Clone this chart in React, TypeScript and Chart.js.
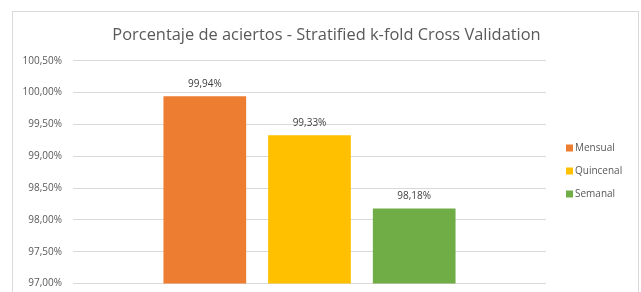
import React, { useEffect, useRef } from "react";
import { Chart, registerables } from "chart.js";

Chart.register(...registerables);

const TITLE = "Porcentaje de aciertos - Stratified k-fold Cross Validation";
const categories = [""];
const seriesNames = ["Mensual", "Quincenal", "Semanal"];
const seriesValues = [[99.94], [99.33], [98.18]];
const seriesColors = ["#ED7D31", "#FFC000", "#70AD47"];
const yMin = 97;
const yMax = 100.5;
const yStep = 0.5;

const FONT = "'Open Sans', 'Noto Sans', sans-serif";
const fmt = (v: number) => v.toFixed(2).replace(".", ",") + "%";

const dataLabels = {
  id: "dataLabels",
  afterDatasetsDraw(chart: any) {
    const ctx = chart.ctx;
    ctx.save();
    ctx.font = `10px ${FONT}`;
    ctx.fillStyle = "#404040";
    ctx.textAlign = "center";
    ctx.textBaseline = "middle";
    chart.data.datasets.forEach((ds: any, i: number) => {
      const meta = chart.getDatasetMeta(i);
      meta.data.forEach((bar: any, j: number) => {
        ctx.fillText(fmt(ds.data[j]), bar.x, bar.y - 12);
      });
    });
    ctx.restore();
  },
};

const sideLegend = {
  id: "sideLegend",
  afterDraw(chart: any) {
    const ctx = chart.ctx;
    const area = chart.chartArea;
    ctx.save();
    ctx.font = `10px ${FONT}`;
    ctx.textAlign = "left";
    ctx.textBaseline = "middle";
    const x = area.right + 20;
    const y0 = 148;
    chart.data.datasets.forEach((ds: any, i: number) => {
      const y = y0 + i * 23;
      ctx.fillStyle = ds.backgroundColor;
      ctx.fillRect(x, y - 3.5, 7, 7);
      ctx.fillStyle = "#595959";
      ctx.fillText(ds.label, x + 9, y);
    });
    ctx.restore();
  },
};

export default function App() {
  const ref = useRef<HTMLCanvasElement>(null);
  useEffect(() => {
    if (!ref.current) return;
    const chart = new Chart(ref.current, {
      type: "bar",
      data: {
        labels: categories,
        datasets: seriesNames.map((name, i) => ({
          label: name,
          data: seriesValues[i],
          backgroundColor: seriesColors[i],
          categoryPercentage: 0.664,
          barPercentage: 0.79,
        })),
      },
      options: {
        animation: false,
        responsive: false,
        maintainAspectRatio: false,
        layout: { padding: { left: 12, right: 0, top: 0, bottom: 8.5 } },
        plugins: {
          legend: { display: false },
          tooltip: { enabled: false },
          title: {
            display: true,
            text: TITLE,
            color: "#595959",
            font: { family: FONT, size: 16.4, weight: "normal" },
            padding: { top: 25, bottom: 16 },
          },
        },
        scales: {
          x: { display: false },
          y: {
            min: yMin,
            max: yMax,
            ticks: {
              stepSize: yStep,
              color: "#595959",
              font: { family: FONT, size: 10 },
              padding: 11,
              callback: (v: any) => fmt(Number(v)),
            },
            grid: { color: "#D9D9D9", drawTicks: false },
            border: { display: false },
            afterFit: (scale: any) => {
              scale.width = 61;
              scale.paddingTop = 0;
              scale.paddingBottom = 0;
            },
          },
          yRight: {
            type: "linear",
            position: "right",
            display: true,
            ticks: { display: false },
            grid: { display: false },
            border: { display: false },
            afterFit: (scale: any) => {
              scale.width = 95;
            },
          },
        },
      },
      plugins: [dataLabels, sideLegend],
    });
    return () => chart.destroy();
  }, []);

  return (
    <div style={{ position: "absolute", left: 0, top: 0, width: 641, height: 292, overflow: "hidden", background: "#fff" }}>
      <div style={{ position: "absolute", left: 12, top: 11, width: 627, height: 300, border: "1px solid #D9D9D9", boxSizing: "border-box" }} />
      <canvas ref={ref} width={641} height={292} style={{ position: "absolute", left: 0, top: 0 }} />
    </div>
  );
}
